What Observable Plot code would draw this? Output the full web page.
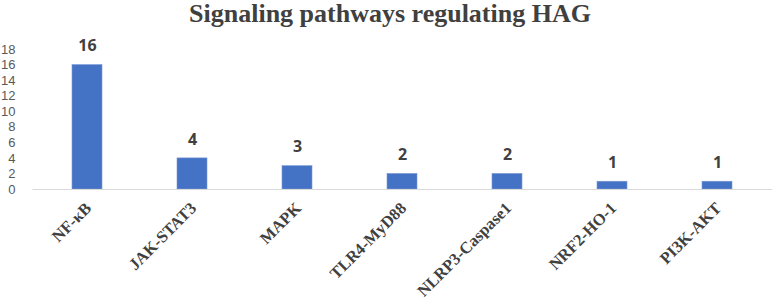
<!DOCTYPE html>
<html>
<head>
<meta charset="utf-8">
<script src="https://cdn.jsdelivr.net/npm/d3@7"></script>
<script src="https://cdn.jsdelivr.net/npm/@observablehq/plot@0.6"></script>
<style>
  html, body { margin: 0; padding: 0; background: #fff; }
  #title { width: 774px; height: 28px; text-align: center; font-family: "Liberation Serif", serif; font-weight: bold; font-size: 26px; line-height: 28px; color: #404040; padding-left: 6px; box-sizing: border-box; overflow: visible; }
  #chart svg { display: block; }
</style>
</head>
<body>
<div id="title">Signaling pathways regulating HAG</div>
<div id="chart"></div>
<script>
const pathways = ["NF-κB", "JAK-STAT3", "MAPK", "TLR4-MyD88", "NLRP3-Caspase1", "NRF2-HO-1", "PI3K-AKT"];
const counts = [16, 4, 3, 2, 2, 1, 1];
const yTicks = [0, 2, 4, 6, 8, 10, 12, 14, 16, 18];

const data = pathways.map((p, i) => ({pathway: p, count: counts[i]}));

const chart = Plot.plot({
  width: 774,
  height: 277,
  marginLeft: 32.5,
  marginRight: 2,
  marginTop: 21,
  marginBottom: 116,
  style: {background: "#fff", overflow: "visible"},
  x: {domain: pathways, paddingInner: 0.71, paddingOuter: 0.355, label: null},
  y: {domain: [0, 18], ticks: yTicks, label: null},
  marks: [
    Plot.barY(data, {x: "pathway", y: "count", fill: "#4472C4", stroke: "#7c9ad6", strokeWidth: 0.6}),
    Plot.ruleY([0], {stroke: "#d9d9d9", strokeWidth: 1.2}),
    Plot.text(data, {x: "pathway", y: "count", text: d => String(d.count), dy: -19, fill: "#404040", fontWeight: "bold", fontSize: 16, fontFamily: "Open Sans"}),
    Plot.axisY({ticks: yTicks, tickSize: 0, tickPadding: 17.5, fontSize: 13, fontFamily: "Liberation Sans", color: "#595959", label: null}),
    Plot.axisX({tickSize: 0, tickPadding: 14, tickRotate: -45, dx: 1, dy: 2, fontSize: 16.5, fontWeight: "bold", fontFamily: "Liberation Serif", color: "#404040", label: null})
  ]
});
document.getElementById("chart").appendChild(chart);
</script>
</body>
</html>
